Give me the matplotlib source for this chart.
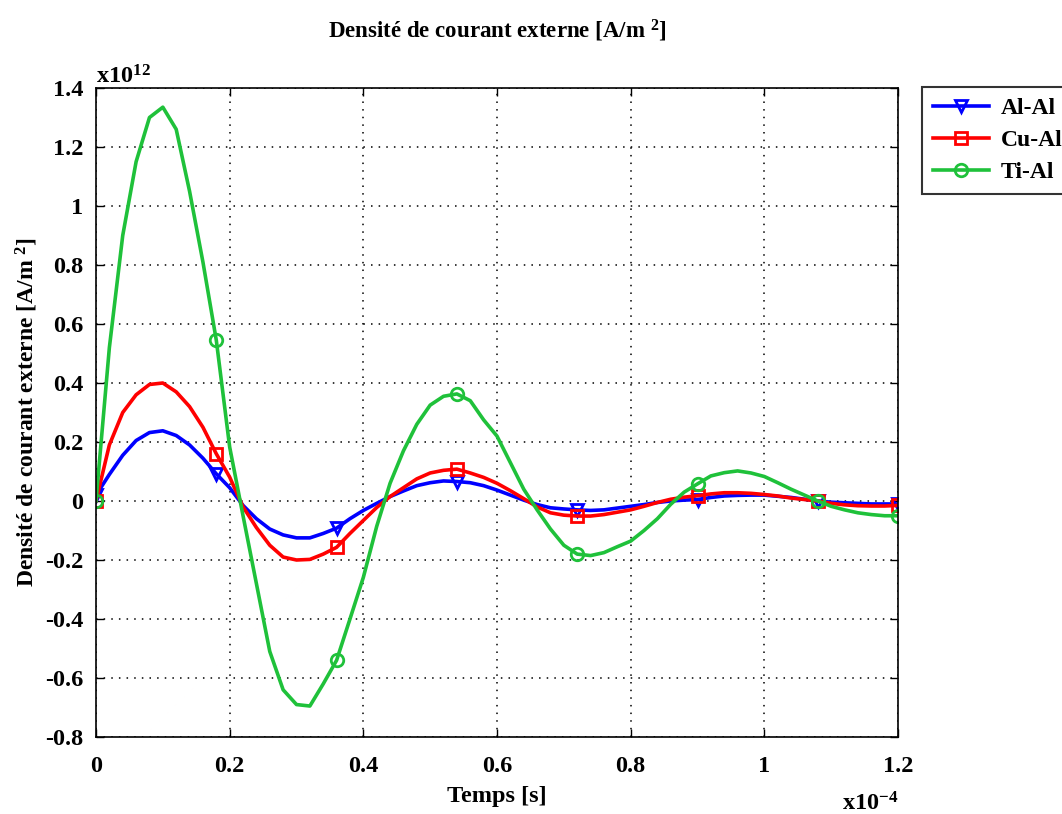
import numpy as np
import matplotlib.pyplot as plt
from matplotlib.ticker import FixedLocator, FuncFormatter

plt.rcParams['font.family'] = ['Liberation Serif', 'DejaVu Serif']
plt.rcParams['font.weight'] = 'bold'
plt.rcParams['axes.unicode_minus'] = False
plt.rcParams['mathtext.fontset'] = 'custom'
plt.rcParams['mathtext.rm'] = 'Liberation Serif:bold'
plt.rcParams['mathtext.bf'] = 'Liberation Serif:bold'
plt.rcParams['mathtext.default'] = 'rm'

# time in units of 1e-4 s, current density in units of 1e12 A/m^2
temps = np.round(np.arange(0, 1.2001, 0.02), 2)

al_al = [0.02, 0.09, 0.155, 0.205, 0.232, 0.238, 0.222, 0.19, 0.145, 0.092,
         0.045, -0.015, -0.06, -0.095, -0.115, -0.125, -0.125, -0.11, -0.092, -0.06,
         -0.032, -0.008, 0.015, 0.034, 0.052, 0.062, 0.068, 0.066, 0.062, 0.052,
         0.037, 0.02, 0.003, -0.012, -0.023, -0.027, -0.03, -0.032, -0.03, -0.024,
         -0.018, -0.012, -0.005, 0.0, 0.003, 0.005, 0.012, 0.017, 0.019, 0.02,
         0.02, 0.016, 0.012, 0.006, 0.0, -0.004, -0.006, -0.008, -0.01, -0.01,
         -0.01]

cu_al = [0.0, 0.19, 0.30, 0.36, 0.395, 0.40, 0.37, 0.32, 0.25, 0.16,
         0.081, -0.02, -0.09, -0.15, -0.19, -0.20, -0.198, -0.18, -0.157, -0.11,
         -0.066, -0.022, 0.015, 0.045, 0.075, 0.095, 0.104, 0.108, 0.095, 0.08,
         0.06, 0.035, 0.008, -0.02, -0.04, -0.048, -0.051, -0.051, -0.046, -0.038,
         -0.03, -0.018, -0.005, 0.006, 0.013, 0.018, 0.024, 0.028, 0.028, 0.026,
         0.022, 0.017, 0.01, 0.005, 0.0, -0.008, -0.013, -0.016, -0.017, -0.017,
         -0.015]

ti_al = [0.0, 0.52, 0.90, 1.15, 1.30, 1.335, 1.26, 1.05, 0.81, 0.545,
         0.183, -0.05, -0.28, -0.51, -0.64, -0.69, -0.695, -0.62, -0.54, -0.40,
         -0.259, -0.086, 0.06, 0.17, 0.26, 0.325, 0.355, 0.363, 0.34, 0.275,
         0.22, 0.13, 0.04, -0.03, -0.095, -0.15, -0.18, -0.185, -0.175, -0.155,
         -0.136, -0.10, -0.06, -0.011, 0.03, 0.058, 0.085, 0.096, 0.102, 0.095,
         0.083, 0.062, 0.04, 0.02, 0.0, -0.018, -0.03, -0.04, -0.046, -0.05,
         -0.05]

labels = ['Al-Al', 'Cu-Al', 'Ti-Al']
colors = ['#0000ff', '#ff0000', '#1fc13a']
markers = ['v', 's', 'o']

fig = plt.figure(figsize=(10.62, 8.14), dpi=100)
ax = fig.add_axes([96/1062, 1-737/814, (898-96)/1062, (737-88)/814])

marks = [0, 9, 18, 27, 36, 45, 54, 60]
for y, lab, c, m in zip([al_al, cu_al, ti_al], labels, colors, markers):
    ax.plot(temps, y, color=c, lw=2.6, marker=m, markevery=marks, ms=9,
            mfc='none', mec=c, mew=2, label=lab)

ax.set_xlim(0, 1.2)
ax.set_ylim(-0.8, 1.4)
ax.xaxis.set_major_locator(FixedLocator(np.round(np.arange(0, 1.21, 0.2), 1)))
ax.yaxis.set_major_locator(FixedLocator(np.round(np.arange(-0.8, 1.41, 0.2), 1)))
fmt = FuncFormatter(lambda v, p: '%g' % (round(v, 1) + 0.0))
ax.xaxis.set_major_formatter(fmt)
ax.yaxis.set_major_formatter(fmt)
ax.tick_params(direction='in', length=6, width=1, top=True, right=True,
               labelsize=17.5, pad=9)
ax.tick_params(axis='x', pad=14)
ax.grid(True, color='black', linestyle=(0, (1, 4)), linewidth=1.1)
for s in ax.spines.values():
    s.set_linewidth(1.2)

ax.set_title('Densité de courant externe [A/m $^{2}$]', fontsize=16.5,
             fontweight='bold', pad=36)
ax.set_xlabel('Temps [s]', fontsize=17.5, fontweight='bold', labelpad=6)
ax.set_ylabel('Densité de courant externe [A/m $^{2}$]', fontsize=17,
              fontweight='bold', labelpad=4)
ax.text(0.0, 1.0, 'x10$^{12}$', transform=ax.transAxes, fontsize=17.5,
        fontweight='bold', ha='left', va='bottom')
ax.text(1.0, -0.085, 'x10$^{-4}$', transform=ax.transAxes, fontsize=17.5,
        fontweight='bold', ha='right', va='top')

leg = fig.legend(loc='upper left', bbox_to_anchor=(922/1062, 1-87/814),
                 bbox_transform=fig.transFigure, fontsize=17, frameon=True,
                 fancybox=False, edgecolor='black', handlelength=2.4,
                 borderpad=0.45, labelspacing=0.45, handletextpad=0.5,
                 borderaxespad=0)
leg.get_frame().set_linewidth(1.5)

fig.savefig('out.png', dpi=100)
